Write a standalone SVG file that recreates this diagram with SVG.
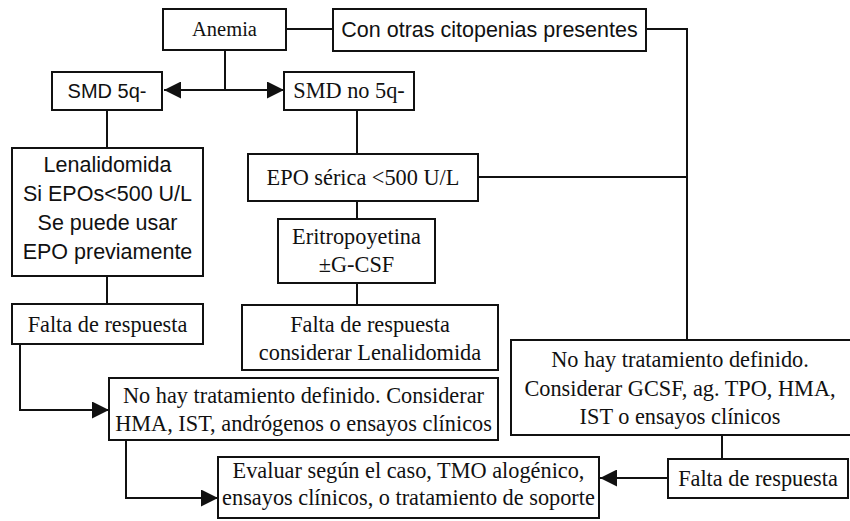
<svg xmlns="http://www.w3.org/2000/svg" width="850" height="521" viewBox="0 0 850 521">
<defs>
<style>
.box{fill:#fff;stroke:#111;stroke-width:2}
.ln{fill:none;stroke:#111;stroke-width:2}
.sr{font-family:"Liberation Serif","Times New Roman",serif;font-size:22.3px;fill:#111;text-anchor:middle}
.ss{font-family:"Liberation Sans",Arial,sans-serif;font-size:21.5px;fill:#111;text-anchor:middle}
</style>
<marker id="ah" viewBox="0 0 10 10" refX="10" refY="5" markerWidth="8.5" markerHeight="8.5" markerUnits="strokeWidth" orient="auto-start-reverse">
<path d="M0,0 L10,5 L0,10 z" fill="#111"/>
</marker>
</defs>
<rect width="850" height="521" fill="#fff"/>
<g id="connectors">
<path class="ln" d="M286,29 H333"/>
<path class="ln" d="M646,29 H687 V340"/>
<path class="ln" d="M225,50 V90"/>
<path class="ln" d="M164,90 H284" marker-start="url(#ah)" marker-end="url(#ah)"/>
<path class="ln" d="M107,110 V148"/>
<path class="ln" d="M357,110 V154"/>
<path class="ln" d="M478,177 H687"/>
<path class="ln" d="M357,201 V219"/>
<path class="ln" d="M357,283 V305"/>
<path class="ln" d="M107,276 V304"/>
<path class="ln" d="M20,344 V410 H109" marker-end="url(#ah)"/>
<path class="ln" d="M126,440 V498 H218" marker-end="url(#ah)"/>
<path class="ln" d="M722,435 V459"/>
<path class="ln" d="M668,478 H600" marker-end="url(#ah)"/>
</g>
<g id="anemia"><rect class="box" x="163" y="9" width="123" height="41"/><text class="sr" x="224.5" y="36" style="font-size:20.5px">Anemia</text></g>
<g id="citopenias"><rect class="box" x="333" y="9" width="313" height="42"/><text class="ss" x="489.5" y="37">Con otras citopenias presentes</text></g>
<g id="smd5q"><rect class="box" x="52" y="72" width="110" height="38"/><text class="ss" x="107" y="98" style="font-size:20px">SMD 5q-</text></g>
<g id="smdno5q"><rect class="box" x="284" y="72" width="130" height="38"/><text class="sr" x="349" y="98">SMD no 5q-</text></g>
<g id="lenalidomida"><rect class="box" x="12" y="148" width="191" height="128"/>
<text class="ss" x="107.5" y="172">Lenalidomida</text>
<text class="ss" x="107.5" y="201">Si EPOs&lt;500 U/L</text>
<text class="ss" x="107.5" y="230">Se puede usar</text>
<text class="ss" x="107.5" y="259">EPO previamente</text></g>
<g id="eposerica"><rect class="box" x="248" y="154" width="230" height="47"/><text class="sr" x="363" y="185">EPO sérica &lt;500 U/L</text></g>
<g id="eritropoyetina"><rect class="box" x="278" y="219" width="157" height="64"/>
<text class="sr" x="356.5" y="244">Eritropoyetina</text>
<text class="sr" x="356.5" y="272">±G-CSF</text></g>
<g id="falta1"><rect class="box" x="12" y="304" width="191" height="40"/><text class="sr" x="107.5" y="332">Falta de respuesta</text></g>
<g id="falta2"><rect class="box" x="242" y="305" width="256" height="65"/>
<text class="sr" x="370" y="332">Falta de respuesta</text>
<text class="sr" x="370" y="360">considerar Lenalidomida</text></g>
<g id="nohay1"><rect class="box" x="109" y="378" width="389" height="62"/>
<text class="sr" x="303.5" y="403">No hay tratamiento definido. Considerar</text>
<text class="sr" x="303.5" y="431">HMA, IST, andrógenos o ensayos clínicos</text></g>
<g id="nohay2"><rect class="box" x="511" y="340" width="345" height="95"/>
<text class="sr" x="680" y="367">No hay tratamiento definido.</text>
<text class="sr" x="680" y="396">Considerar GCSF, ag. TPO, HMA,</text>
<text class="sr" x="680" y="424">IST o ensayos clínicos</text></g>
<g id="evaluar"><rect class="box" x="218" y="457" width="381" height="61"/>
<text class="sr" x="408.5" y="478">Evaluar según el caso, TMO alogénico,</text>
<text class="sr" x="408.5" y="505">ensayos clínicos, o tratamiento de soporte</text></g>
<g id="falta3"><rect class="box" x="668" y="459" width="180" height="39"/><text class="sr" x="758" y="486">Falta de respuesta</text></g>
</svg>
